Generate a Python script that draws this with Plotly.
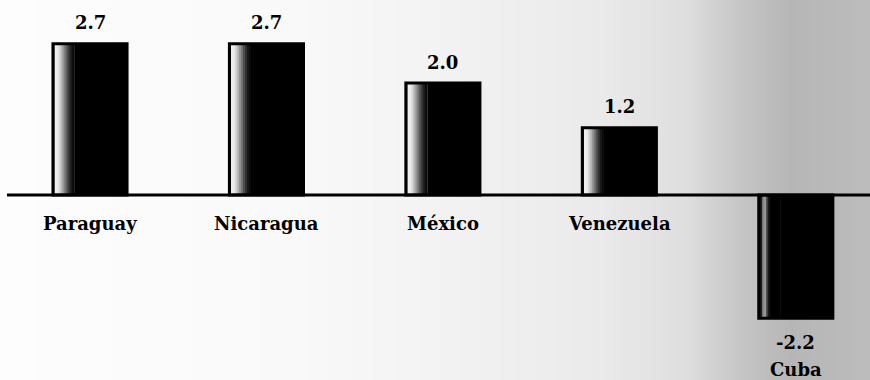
import numpy as np
import plotly.graph_objects as go

# Data
countries = ["Paraguay", "Nicaragua", "México", "Venezuela", "Cuba"]
values = [2.7, 2.7, 2.0, 1.2, -2.2]

# Styling constants
W, H = 870, 380
FONT = dict(family="DejaVu Serif", size=18, color="black", weight="bold")
BAR_W = 0.42                     # bar width in category units
PX = 176.45                      # pixels per category unit
STRIP_W = 2.0 / PX               # width of each shading step
STRIP_START = -BAR_W / 2 + 1.5 / PX

# Grey levels across the lit left edge of each bar (light -> black)
lit_edge = [240, 235, 215, 185, 150, 115, 80, 50, 25, 10]
# Cuba's bar only shows a thin pale line near its left edge
dark_edge = [30, 140, 150, 60, 15, 0, 0, 0, 0, 0]

# Background wash: white on the left, greying towards the right
bg_scale = [
    [0.00, "rgb(253,253,253)"],
    [0.34, "rgb(249,249,249)"],
    [0.52, "rgb(242,242,242)"],
    [0.69, "rgb(234,234,234)"],
    [0.79, "rgb(222,222,222)"],
    [0.85, "rgb(198,198,198)"],
    [0.91, "rgb(182,182,182)"],
    [1.00, "rgb(188,188,188)"],
]

fig = go.Figure()

# Background gradient on the base axes
fig.add_trace(go.Heatmap(
    z=[np.linspace(0, 1, W)], x0=0.5, dx=1, y0=0.5, dy=1,
    colorscale=bg_scale, showscale=False, hoverinfo="skip",
    xaxis="x", yaxis="y",
))

# Solid black bars
fig.add_trace(go.Bar(
    x=countries, y=values, width=BAR_W, marker=dict(color="black", line=dict(width=0)),
    xaxis="x2", yaxis="y2", hoverinfo="skip",
))

# Shading along the left side of each bar: each step runs to the end of the
# shaded zone and the next step is layered over it, so there are no seams
n_steps = len(lit_edge)
for k in range(n_steps):
    cols = []
    for v in values:
        g = dark_edge[k] if v < 0 else lit_edge[k]
        cols.append(f"rgb({g},{g},{g})")
    fig.add_trace(go.Bar(
        x=countries, y=values, width=(n_steps - k) * STRIP_W,
        offset=STRIP_START + k * STRIP_W,
        marker=dict(color=cols, line=dict(width=0)),
        xaxis="x2", yaxis="y2", hoverinfo="skip",
    ))

# Outline
fig.add_trace(go.Bar(
    x=countries, y=values, width=BAR_W,
    marker=dict(color="rgba(0,0,0,0)", line=dict(color="black", width=3)),
    xaxis="x2", yaxis="y2", hoverinfo="skip",
))

# Labels
annotations = []
for c, v in zip(countries, values):
    txt = f"{v:.1f}"
    if v >= 0:
        annotations.append(dict(x=c, y=v, text=txt, yshift=21))
        annotations.append(dict(x=c, y=0, text=c, yshift=-28))
    else:
        annotations.append(dict(x=c, y=v, text=txt, yshift=-24))
        annotations.append(dict(x=c, y=v, text=c, yshift=-51))
for a in annotations:
    a.update(xref="x2", yref="y2", showarrow=False, yanchor="middle",
             xanchor="center", font=FONT)

# Zero line
shapes = [dict(type="line", xref="paper", yref="y2", x0=0.008, x1=1, y0=0, y1=0,
               line=dict(color="black", width=3))]

px_per_unit = 56.0
zero_px = 195.0
y_top = zero_px / px_per_unit
y_bot = -(H - zero_px) / px_per_unit
x0_px = 90.0
x_left = -x0_px / PX
x_right = (W - x0_px) / PX

fig.update_layout(
    width=W, height=H, margin=dict(l=0, r=0, t=0, b=0),
    paper_bgcolor="white", plot_bgcolor="white",
    barmode="overlay", showlegend=False,
    xaxis=dict(range=[0, W], visible=False, fixedrange=True),
    yaxis=dict(range=[0, 1], visible=False, fixedrange=True),
    xaxis2=dict(overlaying="x", type="category", range=[x_left, x_right], visible=False),
    yaxis2=dict(overlaying="y", range=[y_bot, y_top], visible=False),
    annotations=annotations, shapes=shapes,
)

fig.write_html("out.html")
